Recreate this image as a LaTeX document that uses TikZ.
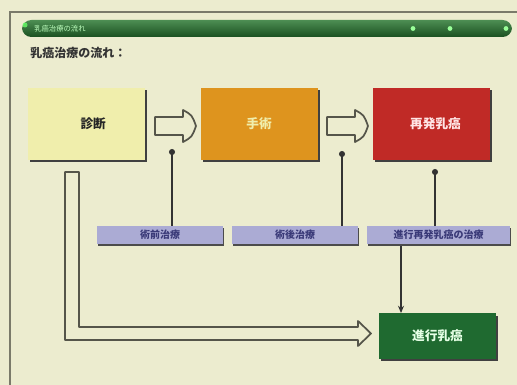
\documentclass[tikz,border=0pt]{standalone}
\usepackage{fontspec}
\setmainfont{Noto Sans CJK JP}
\usetikzlibrary{shadows,arrows.meta}
\definecolor{bg}{HTML}{ECECCF}
\definecolor{frame}{HTML}{7A7A6A}
\definecolor{hdr}{HTML}{2E7A35}
\definecolor{hdrdark}{HTML}{1A5020}
\definecolor{ybox}{HTML}{F0EEAC}
\definecolor{obox}{HTML}{DE941E}
\definecolor{rbox}{HTML}{C02A26}
\definecolor{gbox}{HTML}{1F6A30}
\definecolor{lav}{HTML}{ABABD4}
\definecolor{lavtxt}{HTML}{3A3A78}
\definecolor{arr}{HTML}{55554A}
\tikzset{
  mainbox/.style={rectangle, minimum width=87.75pt, minimum height=54pt, inner sep=0pt,
    font=\fontsize{9.5pt}{11pt}\selectfont\bfseries,
    drop shadow={shadow xshift=1.6pt, shadow yshift=-1.8pt, fill=black!75, opacity=1}},
  labbox/.style={rectangle, fill=lav, minimum height=13.5pt, inner sep=0pt,
    text=lavtxt, font=\fontsize{7.5pt}{9pt}\selectfont\bfseries,
    drop shadow={shadow xshift=0.8pt, shadow yshift=-1.5pt, fill=black!70, opacity=1}},
  hollow/.style={draw=arr, line width=1.3pt, fill=bg, line join=round},
  conn/.style={draw=black!80, line width=0.9pt},
  dotend/.style={conn, -{Circle[length=4.5pt]}},
  arrend/.style={conn, -{Stealth[length=5.5pt,width=4.5pt]}}
}
\begin{document}
\begin{tikzpicture}[x=0.75pt,y=-0.75pt]
\useasboundingbox (0,0) rectangle (517,385);
\fill[bg] (0,0) rectangle (517,385);
% frame
\draw[frame, line width=1.6pt] (10,400) -- (10,12) -- (530,12);
% header bar
\shade[top color=hdr!85, bottom color=hdrdark, rounded corners=7pt] (22,20) rectangle (512,37);
\fill[green!60!white,opacity=0.8] (25,25) circle (2.5);
\foreach \xx in {413,450,506} \fill[green!40!white] (\xx,28.5) circle (2.4);
\node[anchor=west, text=green!25!white, font=\fontsize{5.5pt}{6pt}\selectfont, inner sep=0pt] (hdrtxt) at (34,28.5) {乳癌治療の流れ};
% title
\node[anchor=west, text=black!80, font=\fontsize{9pt}{10pt}\selectfont\bfseries, inner sep=0pt] (title) at (30,53) {乳癌治療の流れ：};
% main boxes
\node[mainbox, fill=ybox, text=black!85] (diag) at (86.5,124) {\hspace{10pt}診断};
\node[mainbox, fill=obox, text=ybox] (surg) at (259,124) {手術};
\node[mainbox, fill=rbox, text=white!90!red] (recur) at (431.5,124) {\hspace{6pt}再発乳癌};
\node[mainbox, fill=gbox, text=white!90!green, minimum width=88pt, minimum height=34pt] (adv) at (437.5,336) {進行乳癌};
% hollow arrows
\draw[hollow] (155,117) -- (183,117) -- (183,110) .. controls (192,115) .. (196,126) .. controls (192,137) .. (183,142) -- (183,135) -- (155,135) -- cycle;
\draw[hollow] (327,117) -- (355,117) -- (355,110) .. controls (364,115) .. (368,126) .. controls (364,137) .. (355,142) -- (355,135) -- (327,135) -- cycle;
\coordinate (a1) at (172,149);
\coordinate (a2) at (342,151);
% L-shaped hollow arrow
\draw[hollow] (65,172) -- (79,172) -- (79,327) -- (358,327) -- (358,321) -- (371,333.5) -- (358,346) -- (358,340) -- (65,340) -- cycle;
% label boxes
\node[labbox, minimum width=94.5pt] (l1) at (160,235) {術前治療};
\node[labbox, minimum width=94.5pt] (l2) at (295,235) {術後治療};
\node[labbox, minimum width=107pt] (l3) at (438.5,235) {進行再発乳癌の治療};
% connectors
\coordinate (r1) at (435,169);
\draw[dotend] (l1.north -| a1) -- (a1);
\draw[dotend] (l2.north -| a2) -- (a2);
\draw[dotend] (l3.north -| r1) -- (r1);
\coordinate (d1) at (401,245);
\draw[arrend] ([yshift=-1.5pt]l3.south -| d1) -- (adv.north -| d1);
\end{tikzpicture}
\end{document}
